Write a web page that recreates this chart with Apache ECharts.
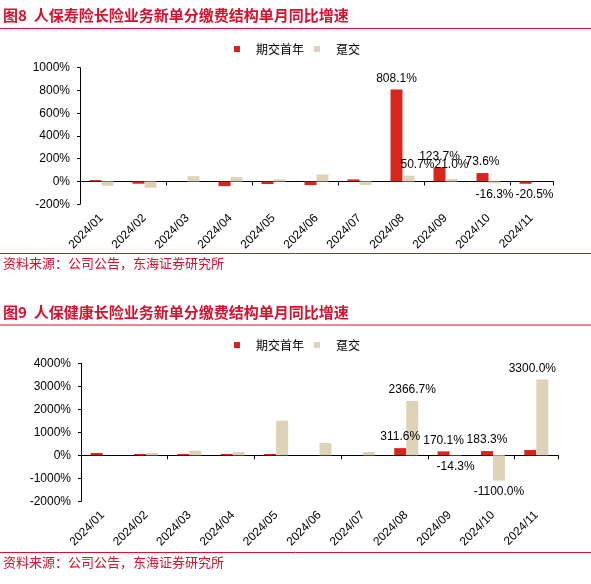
<!DOCTYPE html>
<html>
<head>
<meta charset="utf-8">
<script src="https://cdn.jsdelivr.net/npm/echarts@6/dist/echarts.min.js"></script>
<style>
html,body{margin:0;padding:0;background:#fff;}
#c{width:591px;height:584px;}
</style>
</head>
<body>
<div id="c"></div>
<script>
// ---- data ----
const categories = ['2024/01','2024/02','2024/03','2024/04','2024/05','2024/06','2024/07','2024/08','2024/09','2024/10','2024/11'];
const seriesNames = ['期交首年', '趸交'];

// 图8 人保寿险
const lifeRegular = [12, -20, 0, -41, -23, -32, 18, 808.1, 123.7, 73.6, -20.5];
const lifeSingle  = [-38, -56, 47, 38, 18, 61, -32, 50.7, 21.0, -16.3, null];
const lifeRegularLabeled = ['2024/08','2024/09','2024/10','2024/11'];
const lifeSingleLabeled  = ['2024/08','2024/09','2024/10'];
const lifeYTicks = [-200, 1000, 200];

// 图9 人保健康
const healthRegular = [100, 58, 58, 58, 58, null, null, 311.6, 170.1, 183.3, 232];
const healthSingle  = [null, 100, 203, 145, 1507, 536, 145, 2366.7, -14.3, -1100.0, 3300.0];
const healthRegularLabeled = ['2024/08','2024/09','2024/10'];
const healthSingleLabeled  = ['2024/08','2024/09','2024/10','2024/11'];
const healthYTicks = [-2000, 4000, 1000];

const titles = ['图8  人保寿险长险业务新单分缴费结构单月同比增速', '图9  人保健康长险业务新单分缴费结构单月同比增速'];
const sourceText = '资料来源：公司公告，东海证券研究所';

// ---- style ----
const RED = '#D9261C', BEIGE = '#DDD3B8', TITLE_RED = '#D5122F';
const LATIN = '"Liberation Sans", Arial, "Noto Sans CJK SC", sans-serif';
const CJK = '"Noto Sans CJK SC", "Liberation Sans", sans-serif';

const labelOffsets = {
  'life-1-2024/08': [9, 0],
  'life-1-2024/09': [0, -3],
  'life-0-2024/11': [9, 0],
  'health-1-2024/11': [-10, 0]
};

function buildData(key, sIdx, values, labeled) {
  return values.map((v, i) => {
    const cat = categories[i];
    const show = v != null && labeled.indexOf(cat) >= 0;
    const off = labelOffsets[key + '-' + sIdx + '-' + cat] || [0, 0];
    return {
      value: v,
      label: {
        show: show,
        position: v < 0 ? 'bottom' : 'top',
        distance: 5,
        offset: off,
        formatter: p => p.value.toFixed(1) + '%',
        color: '#000',
        fontSize: 12,
        fontFamily: LATIN
      }
    };
  });
}

const grids = [
  { left: 80, top: 67.7, width: 473, height: 136.5 },
  { left: 81, top: 363.3, width: 477, height: 138 }
];

const xAxes = [], yAxes = [], series = [], legends = [];
const sets = [
  { key: 'life', reg: lifeRegular, sin: lifeSingle, regL: lifeRegularLabeled, sinL: lifeSingleLabeled, y: lifeYTicks, legendTop: 43 },
  { key: 'health', reg: healthRegular, sin: healthSingle, regL: healthRegularLabeled, sinL: healthSingleLabeled, y: healthYTicks, legendTop: 339 }
];

sets.forEach((s, g) => {
  xAxes.push({
    gridIndex: g, type: 'category', data: categories, position: 'bottom',
    axisLine: { show: false, onZero: false }, axisTick: { show: false },
    axisLabel: { rotate: 45, margin: 12, fontSize: 12, color: '#000', fontFamily: LATIN, interval: 0 }
  });
  xAxes.push({
    gridIndex: g, type: 'category', data: categories, position: 'bottom',
    axisLine: { show: true, onZero: true, lineStyle: { color: '#000', width: 1 } },
    axisTick: { show: true, length: 4, lineStyle: { color: '#000' } },
    axisLabel: { show: false }
  });
  yAxes.push({
    gridIndex: g, type: 'value', min: s.y[0], max: s.y[1], interval: s.y[2],
    axisLine: { show: true, lineStyle: { color: '#000', width: 1 } },
    axisTick: { show: true, length: 3, lineStyle: { color: '#000' } },
    splitLine: { show: false },
    axisLabel: { formatter: v => String(v) + '%', fontSize: 12, color: '#000', fontFamily: LATIN, margin: 10 }
  });
  series.push({
    name: seriesNames[0], type: 'bar', xAxisIndex: g * 2, yAxisIndex: g,
    data: buildData(s.key, 0, s.reg, s.regL),
    barWidth: 12, barGap: '0%', itemStyle: { color: RED }
  });
  series.push({
    name: seriesNames[1], type: 'bar', xAxisIndex: g * 2, yAxisIndex: g,
    data: buildData(s.key, 1, s.sin, s.sinL),
    barWidth: 12, barGap: '0%', itemStyle: { color: BEIGE }
  });
  legends.push({
    left: 234, top: s.legendTop, orient: 'horizontal', padding: 0,
    data: [{ name: seriesNames[0], itemStyle: { color: RED } }, { name: seriesNames[1], itemStyle: { color: BEIGE } }],
    icon: 'rect', itemWidth: 6, itemHeight: 6, itemGap: 10,
    selectedMode: false,
    textStyle: { fontSize: 12, color: '#000', fontFamily: CJK, padding: [0, 0, 0, 11] }
  });
});

const graphics = [];
[0, 296.5].forEach((dy, i) => {
  graphics.push({
    type: 'text', left: 3, top: 8 + dy,
    style: { text: titles[i], fill: TITLE_RED, font: 'bold 15px ' + CJK }
  });
  graphics.push({
    type: 'line', shape: { x1: 0, y1: 28.5 + dy, x2: 591, y2: 28.5 + dy },
    style: { stroke: TITLE_RED, lineWidth: 1 }
  });
});
[253.5, 552.5].forEach(y => {
  graphics.push({
    type: 'line', shape: { x1: 0, y1: y, x2: 591, y2: y },
    style: { stroke: TITLE_RED, lineWidth: 1 }
  });
  graphics.push({
    type: 'text', left: 3, top: y + 3,
    style: { text: sourceText, fill: TITLE_RED, font: '13px ' + CJK }
  });
});

const chart = echarts.init(document.getElementById('c'), null, { renderer: 'canvas' });
chart.setOption({
  animation: false,
  backgroundColor: '#fff',
  grid: grids,
  xAxis: xAxes,
  yAxis: yAxes,
  legend: legends,
  series: series,
  graphic: graphics
});
</script>
</body>
</html>
